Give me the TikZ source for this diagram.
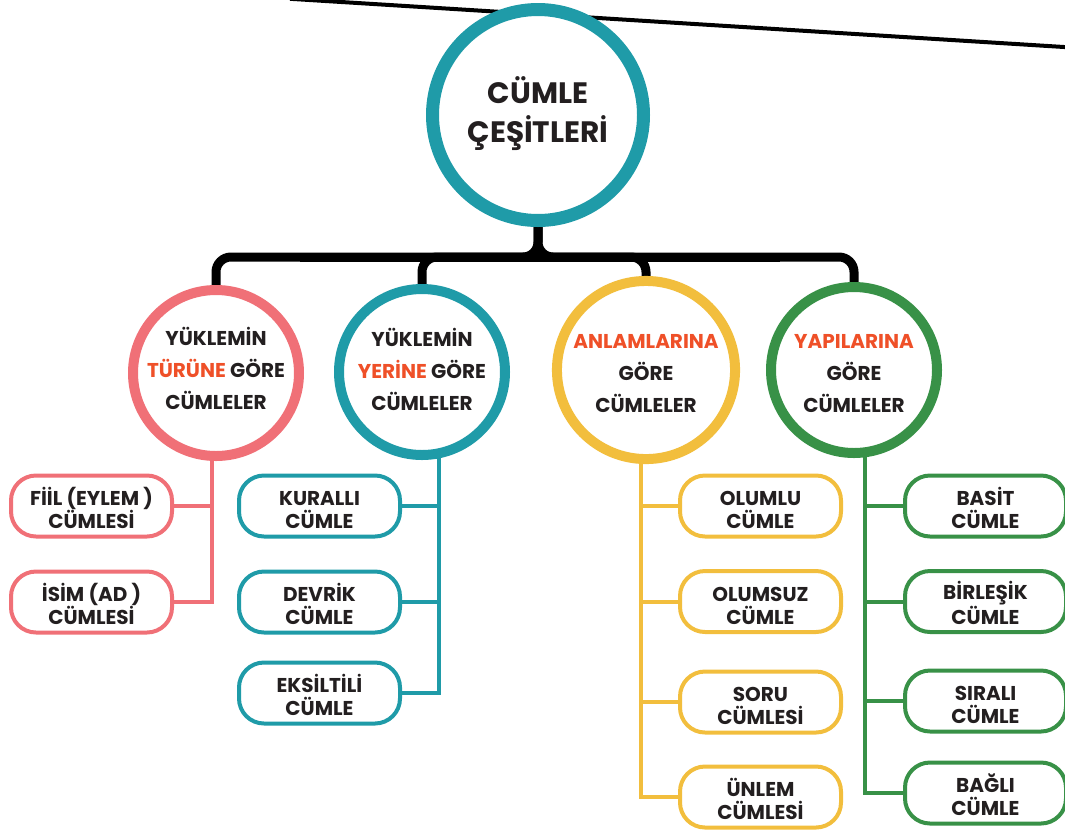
\documentclass[tikz,border=0pt]{standalone}
\usepackage{fontspec}
\setmainfont{Poppins}
\usetikzlibrary{backgrounds}
\definecolor{pinkc}{HTML}{F07077}
\definecolor{tealc}{HTML}{1F9BA8}
\definecolor{yellowc}{HTML}{F2BE3D}
\definecolor{greenc}{HTML}{389147}
\definecolor{redt}{HTML}{EF5028}
\definecolor{darkt}{HTML}{231F20}
\begin{document}
\begin{tikzpicture}[x=1pt,y=-1pt,
  mainc/.style={circle, draw=tealc, line width=13pt, minimum size=211pt, inner sep=0pt, fill=white, align=center, text=darkt, font=\fontsize{29.5}{39}\selectfont\bfseries, text height=64pt, text depth=10pt},
  cat/.style={circle, line width=10pt, minimum size=166pt, inner sep=0pt, fill=white, align=center, text=darkt, font=\fontsize{20}{32}\selectfont\bfseries, text depth=10pt},
  leaf/.style={rectangle, rounded corners=25pt, line width=4pt, minimum width=161pt, minimum height=57pt, inner sep=0pt, fill=white, align=center, text=darkt, font=\fontsize{20}{23}\selectfont\bfseries, text height=53pt, text depth=8pt},
  link/.style={line width=4pt},
  bracestyle/.style={line width=9pt, rounded corners=15pt}]
\useasboundingbox (0,0) rectangle (1065,831);

\node[mainc] (m) at (538,115) {CÜMLE\\ÇEŞİTLERİ};

\node[cat, draw=pinkc, text height=82pt] (c1) at (216,373) {YÜKLEMİN\\\textcolor{redt}{TÜRÜNE} GÖRE\\CÜMLELER};
\node[cat, draw=tealc, text height=86pt] (c2) at (422,372) {YÜKLEMİN\\\textcolor{redt}{YERİNE} GÖRE\\CÜMLELER};
\node[cat, draw=yellowc, text height=94pt] (c3) at (646,370) {\textcolor{redt}{ANLAMLARINA}\\GÖRE\\CÜMLELER};
\node[cat, draw=greenc, text height=94pt] (c4) at (854,370) {\textcolor{redt}{YAPILARINA}\\GÖRE\\CÜMLELER};

\node[leaf, draw=pinkc] (a1) at (91.5,506) {FİİL (EYLEM )\\CÜMLESİ};
\node[leaf, draw=pinkc] (a2) at (91.5,602) {İSİM (AD )\\CÜMLESİ};

\node[leaf, draw=tealc] (b1) at (319.5,506) {KURALLI\\CÜMLE};
\node[leaf, draw=tealc] (b2) at (319.5,602) {DEVRİK\\CÜMLE};
\node[leaf, draw=tealc] (b3) at (319.5,693) {EKSİLTİLİ\\CÜMLE};

\node[leaf, draw=yellowc] (d1) at (760.5,506) {OLUMLU\\CÜMLE};
\node[leaf, draw=yellowc] (d2) at (760.5,601.5) {OLUMSUZ\\CÜMLE};
\node[leaf, draw=yellowc] (d3) at (760.5,702) {SORU\\CÜMLESİ};
\node[leaf, draw=yellowc] (d4) at (760.5,797) {ÜNLEM\\CÜMLESİ};

\node[leaf, draw=greenc] (e1) at (985.5,506) {BASİT\\CÜMLE};
\node[leaf, draw=greenc] (e2) at (985.5,601.5) {BİRLEŞİK\\CÜMLE};
\node[leaf, draw=greenc] (e3) at (985.5,701) {SIRALI\\CÜMLE};
\node[leaf, draw=greenc] (e4) at (985.5,793) {BAĞLI\\CÜMLE};

\coordinate (t1) at (212,455);
\coordinate (t2) at (439,452);
\coordinate (t3) at (641,452);
\coordinate (t4) at (865,451);
\coordinate (bar) at (538,257);
\coordinate (barL) at (300,257);
\coordinate (barR) at (780,257);

\begin{scope}[on background layer]
  \draw[line width=4pt] (290,-1.2) -- (1080,48);
  \draw[bracestyle] (m.south) |- (bar -| c1.north) -- (c1.north);
  \draw[bracestyle] (m.south) |- (bar -| c4.north) -- (c4.north);
  \draw[bracestyle] (c2.north) |- (bar);
  \draw[bracestyle] (c3.north) |- (bar);
  \draw[line width=9pt] (barL) -- (barR);

  \draw[link, pinkc] (t1) |- (a2.east);
  \draw[link, pinkc] (a1.east) -- (a1.east -| t1);

  \draw[link, tealc] (t2) |- (b3.east);
  \draw[link, tealc] (b1.east) -- (b1.east -| t2);
  \draw[link, tealc] (b2.east) -- (b2.east -| t2);

  \draw[link, yellowc] (t3) |- (d4.west);
  \draw[link, yellowc] (d1.west) -- (d1.west -| t3);
  \draw[link, yellowc] (d2.west) -- (d2.west -| t3);
  \draw[link, yellowc] (d3.west) -- (d3.west -| t3);

  \draw[link, greenc] (t4) |- (e4.west);
  \draw[link, greenc] (e1.west) -- (e1.west -| t4);
  \draw[link, greenc] (e2.west) -- (e2.west -| t4);
  \draw[link, greenc] (e3.west) -- (e3.west -| t4);
\end{scope}
\end{tikzpicture}
\end{document}
